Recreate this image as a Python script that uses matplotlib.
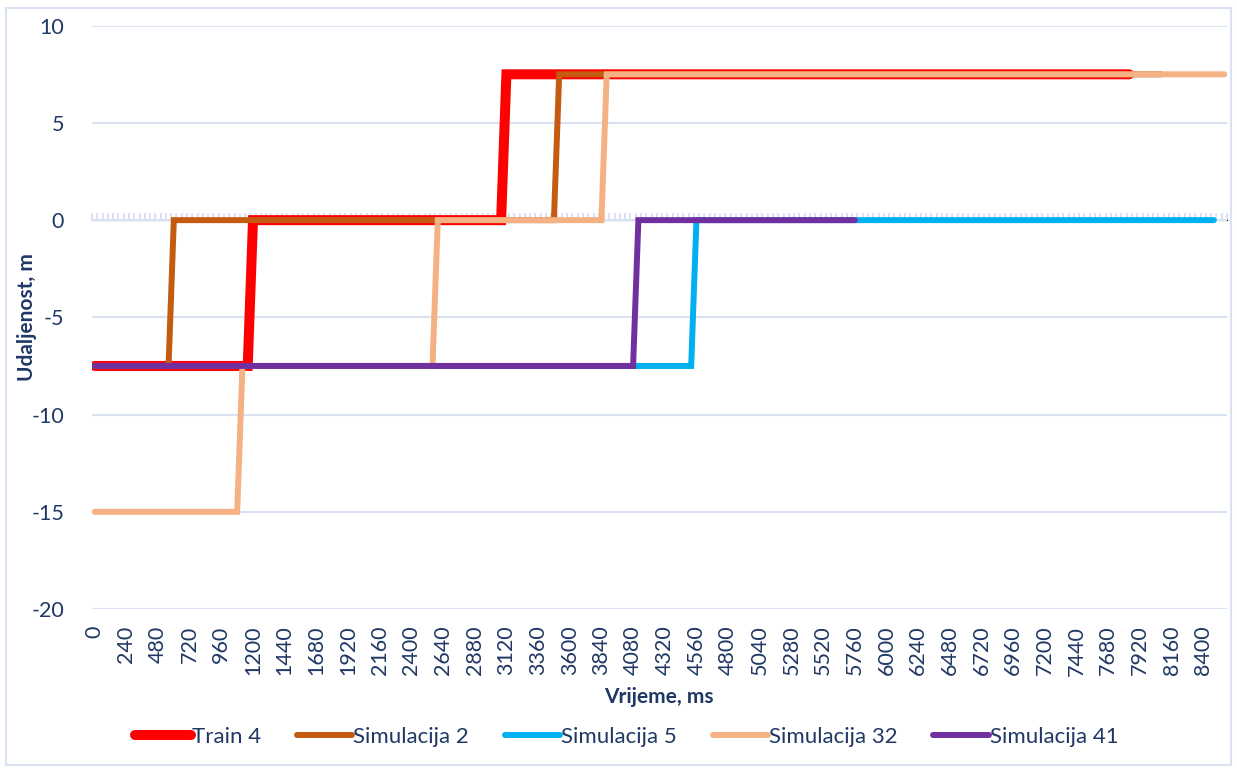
import matplotlib.pyplot as plt
from matplotlib.patches import Rectangle
import numpy as np

# breakpoints of each step series (time in ms, distance in m)
train4_t = [0, 1160, 1200, 3080, 3120, 7840]
train4_y = [-7.5, -7.5, 0, 0, 7.5, 7.5]

sim2_t = [0, 560, 600, 3480, 3520, 8080]
sim2_y = [-7.5, -7.5, 0, 0, 7.5, 7.5]

sim5_t = [0, 4520, 4560, 8480]
sim5_y = [-7.5, -7.5, 0, 0]

sim32_t = [0, 1080, 1120, 2560, 2600, 3840, 3880, 8560]
sim32_y = [-15, -15, -7.5, -7.5, 0, 0, 7.5, 7.5]

sim41_t = [0, 4080, 4120, 5760]
sim41_y = [-7.5, -7.5, 0, 0]

labels = ['Train 4', 'Simulacija 2', 'Simulacija 5', 'Simulacija 32', 'Simulacija 41']
colors = ['#FF0000', '#C55A11', '#00B0F0', '#F4B183', '#7030A0']
widths = [7.2, 4.3, 4.3, 4.3, 4.3]

xticks = list(range(0, 8401, 240))
yticks = [-20, -15, -10, -5, 0, 5, 10]

txt = '#203864'
grid = '#D9E2F3'
plt.rcParams['font.family'] = ['Lato', 'DejaVu Sans']
plt.rcParams['axes.unicode_minus'] = False

W, H = 1237, 771
fig = plt.figure(figsize=(W/100, H/100), dpi=100)
ax = fig.add_axes([92/W, 1 - 609/H, (1227-92)/W, (609-25.7)/H])

series = [(train4_t, train4_y), (sim2_t, sim2_y), (sim5_t, sim5_y),
          (sim32_t, sim32_y), (sim41_t, sim41_y)]
for (t, y), lab, c, w in zip(series, labels, colors, widths):
    ax.plot(t, y, color=c, lw=w, label=lab, solid_capstyle='round',
            solid_joinstyle='miter', zorder=3)

ax.set_xlim(-20, 8580)
ax.set_ylim(-20, 10)
ax.set_yticks(yticks)
ax.set_xticks(xticks)
ax.set_xticklabels([str(v) for v in xticks], rotation=90)
ax.grid(axis='y', color=grid, lw=1.5, zorder=0)
ax.grid(axis='x', visible=False)
for s in ax.spines.values():
    s.set_visible(False)
ax.tick_params(axis='both', length=0, colors=txt, labelsize=15.5)
ax.tick_params(axis='y', pad=20)
ax.tick_params(axis='x', pad=12)

# category tick marks along the zero line
sec = ax.secondary_xaxis(2/3)
sec.set_xticks(np.arange(-20, 8600, 40))
sec.set_xticklabels([])
sec.tick_params(axis='x', direction='out', length=5, width=1.5, color=grid)
sec.spines['bottom'].set_color(grid)
sec.spines['bottom'].set_linewidth(1.5)

fig.text(659/W, 1 - 697/H, 'Vrijeme, ms', fontsize=15, fontweight='bold',
         color=txt, ha='center', va='center')
fig.text(27/W, 1 - 317/H, 'Udaljenost, m', fontsize=15, fontweight='bold',
         color=txt, ha='center', va='center', rotation=90)

leg = ax.legend(loc='center', ncol=5, frameon=False, fontsize=16, labelcolor=txt,
                handlelength=2.5, handletextpad=0.05, columnspacing=1.6)
leg.set_bbox_to_anchor((627/W, 1 - 737/H), transform=fig.transFigure)

fig.patches.append(Rectangle((6/W, 1 - 765/H), 1225/W, 757/H,
                             transform=fig.transFigure, fill=False,
                             edgecolor=grid, lw=1.5))

fig.savefig('out.png', dpi=100)
